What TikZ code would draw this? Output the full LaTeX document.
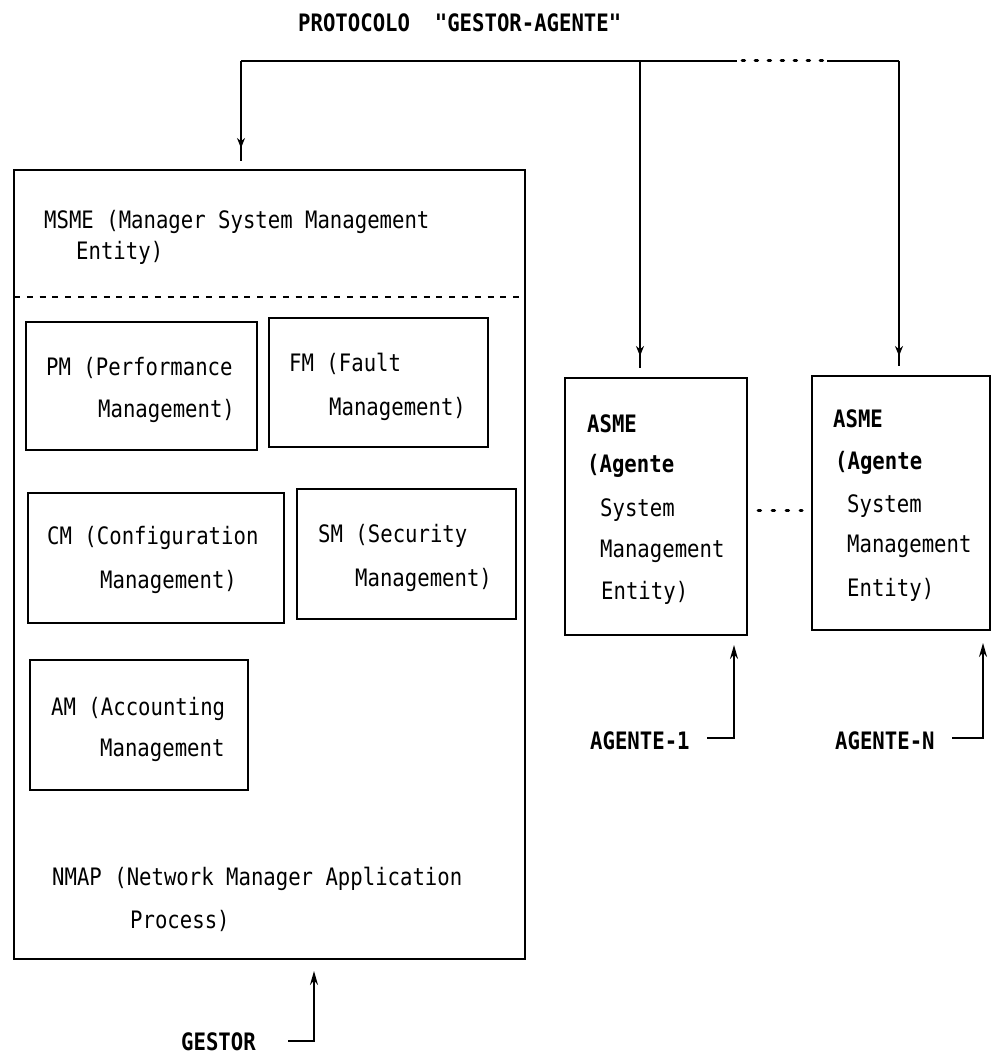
\documentclass[tikz,border=0pt]{standalone}
\usepackage{fontspec}
\usetikzlibrary{arrows.meta}
\newfontfamily\dotfont[FakeStretch=0.86]{DejaVu Sans Mono}

\tikzset{
  box/.style={draw, line width=2pt, inner sep=0pt},
  txt/.style={anchor=base west, inner sep=0pt, font=\dotfont\fontsize{24}{28}\selectfont},
  btxt/.style={txt, font=\dotfont\bfseries\fontsize{24}{28}\selectfont},
  wire/.style={line width=1.8pt},
  dotwire/.style={line width=3pt, line cap=round, dash pattern=on 2.5pt off 10.5pt},
  sepline/.style={line width=1.8pt, dash pattern=on 6pt off 6.8pt},
  downmark/.style={wire, -{Stealth[length=10pt,width=8pt]}},
  uptip/.style={wire, -{Stealth[length=14pt,width=8pt]}}
}

\begin{document}
\begin{tikzpicture}[x=1pt,y=-1pt]
\fill[white] (0,0) rectangle (993,1057);
\useasboundingbox (0,0) rectangle (993,1057);

% title
\node[btxt, anchor=base west] (title) at (298,32) {PROTOCOLO\ \ "GESTOR-AGENTE"};

% manager block
\node[box, minimum width=511pt, minimum height=789pt] (main) at (269.5,564.5) {};
\coordinate (sepL) at (14,297);
\coordinate (sepR) at (525,297);
\draw[sepline] (sepL) -- (sepR);
\node[txt] (msme1) at (44,228) {MSME (Manager System Management};
\node[txt] (msme2) at (76,259) {Entity)};

\node[box, minimum width=231pt, minimum height=128pt] (pm) at (141.5,386) {};
\node[txt] (pm1) at (46,375) {PM (Performance};
\node[txt] (pm2) at (98,417) {Management)};

\node[box, minimum width=219pt, minimum height=129pt] (fm) at (378.5,382.5) {};
\node[txt] (fm1) at (289,371) {FM (Fault};
\node[txt] (fm2) at (329,415) {Management)};

\node[box, minimum width=256pt, minimum height=130pt] (cm) at (156,558) {};
\node[txt] (cm1) at (47,544) {CM (Configuration};
\node[txt] (cm2) at (100,588) {Management)};

\node[box, minimum width=219pt, minimum height=130pt] (sm) at (406.5,554) {};
\node[txt] (sm1) at (318,542) {SM (Security};
\node[txt] (sm2) at (355,586) {Management)};

\node[box, minimum width=218pt, minimum height=130pt] (am) at (139,725) {};
\node[txt] (am1) at (51,715) {AM (Accounting};
\node[txt] (am2) at (100,756) {Management};

\node[txt] (nmap1) at (52,885) {NMAP (Network Manager Application};
\node[txt] (nmap2) at (130,928) {Process)};

% agent blocks
\node[box, minimum width=182pt, minimum height=257pt] (asme1) at (656,506.5) {};
\node[btxt] (a1l1) at (587,432) {ASME};
\node[btxt] (a1l2) at (587,472) {(Agente};
\node[txt] (a1l3) at (600,516) {System};
\node[txt] (a1l4) at (600,557) {Management};
\node[txt] (a1l5) at (601,599) {Entity)};

\node[box, minimum width=178pt, minimum height=254pt] (asmen) at (901,503) {};
\node[btxt] (anl1) at (833,427) {ASME};
\node[btxt] (anl2) at (835,469) {(Agente};
\node[txt] (anl3) at (847,512) {System};
\node[txt] (anl4) at (847,552) {Management};
\node[txt] (anl5) at (847,596) {Entity)};

% ellipsis between the agents
\coordinate (ellA) at (758,510);
\coordinate (ellB) at (802,510);
\draw[dotwire, dash pattern=on 2.5pt off 11.5pt] (ellA) -- (ellB);

% manager-agent bus
\coordinate (busL) at (241,61);
\coordinate (busM) at (640,61);
\coordinate (busR) at (899,61);
\coordinate (dotA) at (742,61);
\coordinate (dotB) at (827,61);
\coordinate (mgMark) at (241,148);
\coordinate (mgEnd) at (241,161);
\coordinate (a1Mark) at (640,356);
\coordinate (a1End) at (640,368);
\coordinate (anMark) at (899,356);
\coordinate (anEnd) at (899,366);

\draw[wire] (busL) -- (737,61);
\draw[dotwire] (dotA) -- (dotB);
\draw[wire] (dotB) -- (busR);
% drops with an arrow mark a little above their lower end
\draw[wire] (busL) -- (mgEnd);
\draw[downmark] (busL) -- (mgMark);
\draw[wire] (busM) -- (a1End);
\draw[downmark] (busM) -- (a1Mark);
\draw[wire] (busR) -- (anEnd);
\draw[downmark] (busR) -- (anMark);

% gestor / agent entry points
\node[btxt] (gestor) at (181,1050) {GESTOR};
\coordinate (gStart) at (288,1041);
\coordinate (gKnee) at (314,1041);
\coordinate (gTip) at (314,971);
\draw[uptip] (gStart) -- (gKnee) -- (gTip);

\node[btxt] (ag1) at (590,749) {AGENTE-1};
\coordinate (g1Start) at (707,738);
\coordinate (g1Knee) at (734,738);
\coordinate (g1Tip) at (734,645);
\draw[uptip] (g1Start) -- (g1Knee) -- (g1Tip);

\node[btxt] (agn) at (835,749) {AGENTE-N};
\coordinate (gnStart) at (952,738);
\coordinate (gnKnee) at (983,738);
\coordinate (gnTip) at (983,643);
\draw[uptip] (gnStart) -- (gnKnee) -- (gnTip);
\end{tikzpicture}
\end{document}
